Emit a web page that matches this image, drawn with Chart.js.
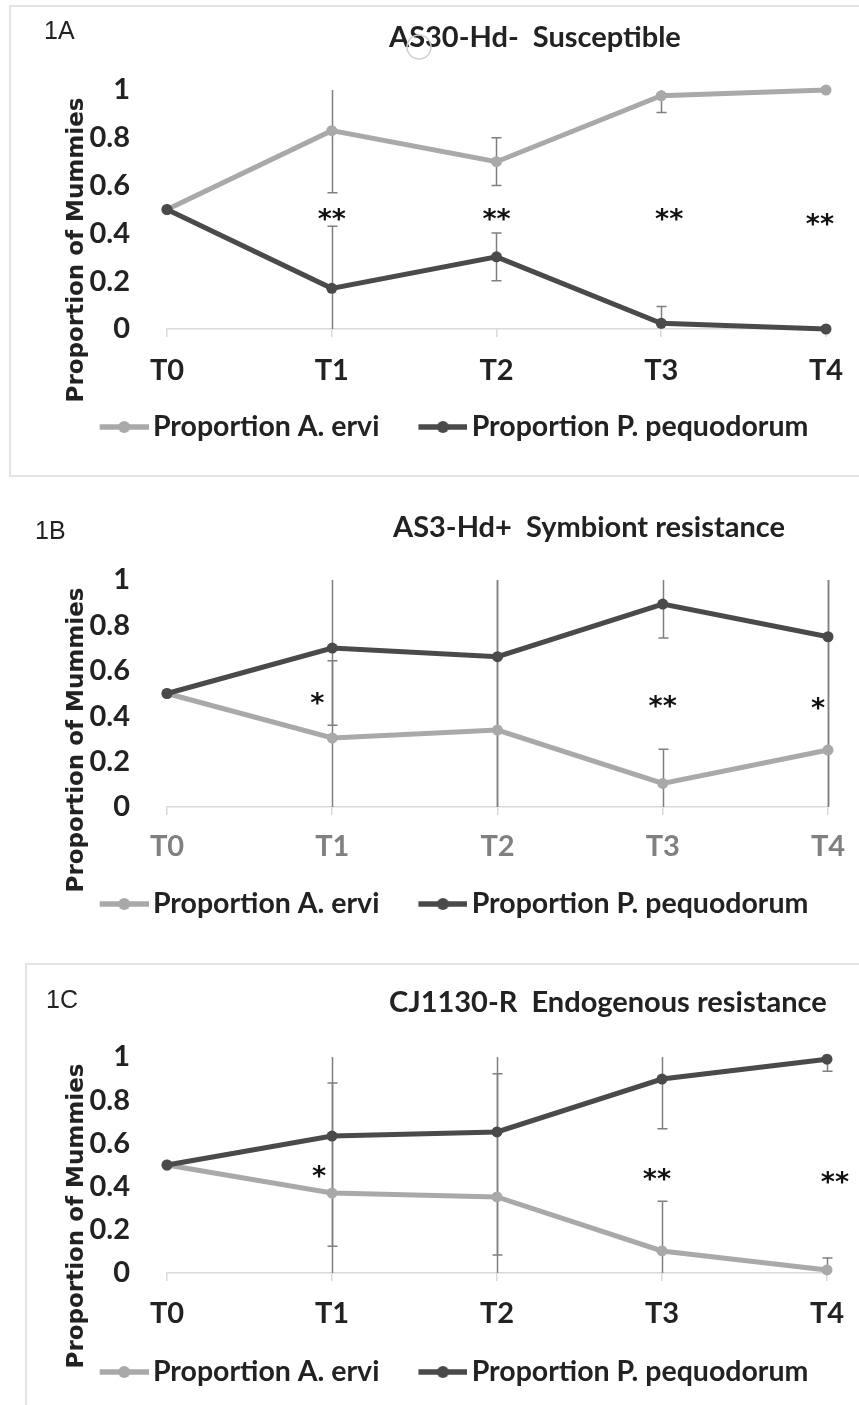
<!DOCTYPE html>
<html>
<head>
<meta charset="utf-8">
<script src="https://cdn.jsdelivr.net/npm/chart.js@4.4.1/dist/chart.umd.min.js"></script>
<style>
  body { margin: 0; width: 859px; height: 1405px; overflow: hidden; background: #fff; position: relative; }
  canvas { position: absolute; left: 0; }
  .frame { position: absolute; border: 2px solid #e3e3e3; }
</style>
</head>
<body>
<div class="frame" style="left:9px;top:5px;width:900px;height:468px"></div>
<div class="frame" style="left:25px;top:963px;width:900px;height:500px"></div>
<canvas id="chartA" width="859" height="470" style="top:0"></canvas>
<canvas id="chartB" width="859" height="450" style="top:480px"></canvas>
<canvas id="chartC" width="859" height="465" style="top:940px"></canvas>
<script>
// time points and y tick labels
const timePoints = ['T0', 'T1', 'T2', 'T3', 'T4'];
const yTickLabels = ['0', '0.2', '0.4', '0.6', '0.8', '1'];
const seriesNames = ['Proportion A. ervi', 'Proportion P. pequodorum'];

// 1A  AS30-Hd-
const erviA = [0.5, 0.83, 0.70, 0.976, 1.0];
const pequoA = [0.5, 0.17, 0.302, 0.024, 0.0];
const errA = [0, 0.26, 0.10, 0.07, 0];
const starsA = ['', '**', '**', '**', '**'];
const starLevelA = [null, 0.477, 0.477, 0.477, 0.46];

// 1B  AS3-Hd+
const erviB = [0.5, 0.304, 0.339, 0.104, 0.251];
const pequoB = [0.5, 0.70, 0.662, 0.894, 0.75];
const errB = [0, 0.34, 0.70, 0.15, 0.76];
const starsB = ['', '*', '', '**', '*'];
const starLevelB = [null, 0.48, null, 0.463, 0.454];

// 1C  CJ1130-R
const erviC = [0.5, 0.37, 0.352, 0.102, 0.014];
const pequoC = [0.5, 0.634, 0.653, 0.898, 0.99];
const errC = [0, 0.51, 0.57, 0.23, 0.056];
const starsC = ['', '*', '', '**', '**'];
const starLevelC = [null, 0.468, null, 0.454, 0.444];

const LIGHT = '#aba8a8';
const DARK = '#4a4a4c';
const TEXT = '#222222';
const LEGEND_FONT = 28.5;

// legend marker: line with a dot, drawn at the right side of a wider image
function legendMarker(color) {
  const c = document.createElement('canvas');
  c.width = 88; c.height = 14;
  const g = c.getContext('2d');
  g.strokeStyle = color; g.lineWidth = 5.5;
  g.beginPath(); g.moveTo(39, 7); g.lineTo(88, 7); g.stroke();
  g.fillStyle = color;
  g.beginPath(); g.arc(63.5, 7, 6, 0, Math.PI * 2); g.fill();
  return c;
}
const markers = [legendMarker(LIGHT), legendMarker(DARK)];

function decor(cfg) {
  return {
    id: 'decor',
    beforeDatasetsDraw(chart) {
      const { ctx, chartArea: a, scales: { x, y } } = chart;
      ctx.save();
      ctx.beginPath();
      ctx.rect(a.left - 10, a.top, a.width + 20, a.height);
      ctx.clip();
      ctx.strokeStyle = '#7f7f7f';
      ctx.lineWidth = 1.5;
      chart.data.datasets.forEach(ds => {
        ds.data.forEach((v, i) => {
          const e = ds.errors[i];
          if (!e) return;
          const px = Math.round(x.getPixelForValue(i)) + 0.5;
          const yt = y.getPixelForValue(v + e);
          const yb = y.getPixelForValue(v - e);
          ctx.beginPath();
          ctx.moveTo(px, yt); ctx.lineTo(px, yb);
          ctx.moveTo(px - 5, yt); ctx.lineTo(px + 5, yt);
          ctx.moveTo(px - 5, yb); ctx.lineTo(px + 5, yb);
          ctx.stroke();
        });
      });
      ctx.restore();
    },
    afterDatasetsDraw(chart) {
      const { ctx, scales: { x, y } } = chart;
      ctx.save();
      ctx.font = 'bold 27px "DejaVu Sans"';
      ctx.fillStyle = '#111';
      ctx.textAlign = 'center';
      ctx.textBaseline = 'alphabetic';
      cfg.stars.forEach((t, i) => {
        if (!t) return;
        const m = ctx.measureText(t);
        const cx = x.getPixelForValue(i) + (cfg.starShift[i] || 0);
        const cy = y.getPixelForValue(cfg.starLevel[i]);
        ctx.fillText(t, cx, cy + (m.actualBoundingBoxAscent - m.actualBoundingBoxDescent) / 2);
      });
      ctx.restore();
    },
    afterDraw(chart) {
      const ctx = chart.ctx;
      ctx.save();
      ctx.fillStyle = TEXT;
      ctx.textAlign = 'left';
      ctx.textBaseline = 'alphabetic';
      ctx.font = '25px "Liberation Sans"';
      ctx.fillText(cfg.tag, cfg.tagX, cfg.tagY);
      ctx.font = 'bold 29px Lato';
      ctx.fillText(cfg.title, cfg.titleX, cfg.titleY);
      if (cfg.ring) {
        // faint circle over the title, as in the source figure
        ctx.strokeStyle = '#cfcfcf';
        ctx.lineWidth = 1.5;
        ctx.beginPath();
        ctx.arc(cfg.ring[0], cfg.ring[1], 12, 0, Math.PI * 2);
        ctx.stroke();
      }
      ctx.translate(77, cfg.yTitleY);
      ctx.rotate(-Math.PI / 2);
      ctx.textAlign = 'center';
      ctx.textBaseline = 'middle';
      ctx.font = 'bold 23px "DejaVu Sans"';
      ctx.fillText('Proportion of Mummies', 0, 0);
      ctx.restore();
    }
  };
}

function makePanel(id, cfg) {
  const ctx = document.getElementById(id).getContext('2d');
  const line = (label, data, errors, color, order) => ({
    label, data, errors, order,
    borderColor: color, backgroundColor: color,
    pointBackgroundColor: color, pointBorderWidth: 0,
    borderWidth: 5, pointRadius: 5.5, clip: 10
  });
  new Chart(ctx, {
    type: 'line',
    data: {
      labels: timePoints,
      datasets: [
        line(seriesNames[0], cfg.ervi, cfg.err, LIGHT, 1),
        line(seriesNames[1], cfg.pequo, cfg.err, DARK, 0)
      ]
    },
    options: {
      responsive: false,
      animation: false,
      layout: { padding: { left: 41, right: 21, top: cfg.padTop, bottom: cfg.padBottom } },
      scales: {
        x: {
          grid: { drawOnChartArea: false, drawTicks: true, tickLength: 8, color: '#d9d9d9', lineWidth: 1.5 },
          border: { color: '#d9d9d9', width: 1.5 },
          ticks: { color: cfg.xColor, padding: cfg.xPad, maxRotation: 0,
                   font: { family: 'Lato', weight: 'bold', size: 29 } },
          afterFit: s => { s.height = cfg.xHeight; }
        },
        y: {
          min: 0, max: 1,
          grid: { display: false },
          border: { display: false },
          ticks: { stepSize: 0.2, color: TEXT, padding: 29,
                   font: { family: 'Lato', weight: 'bold', size: 29 },
                   callback: (v, i) => yTickLabels[i] },
          afterFit: s => { s.width = 126; }
        }
      },
      plugins: {
        legend: {
          position: 'bottom',
          labels: {
            usePointStyle: true,
            pointStyleWidth: 68,
            padding: 10,
            color: TEXT,
            font: { family: 'Lato', weight: 'bold', size: LEGEND_FONT },
            sort: (a, b) => a.datasetIndex - b.datasetIndex,
            generateLabels: chart => {
              const items = Chart.defaults.plugins.legend.labels.generateLabels(chart);
              items.forEach(it => { it.pointStyle = markers[it.datasetIndex]; });
              return items;
            }
          }
        },
        tooltip: { enabled: false }
      }
    },
    plugins: [decor(cfg)]
  });
}

makePanel('chartA', {
  ervi: erviA, pequo: pequoA, err: errA, stars: starsA, starLevel: starLevelA,
  starShift: [0, 0, 0, 8, -6],
  tag: '1A', tagX: 44, tagY: 39, ring: [419, 47],
  title: 'AS30-Hd-  Susceptible', titleX: 389, titleY: 47,
  yTitleY: 250, padTop: 90, padBottom: 18.75, xHeight: 73.75, xPad: 15.9, xColor: TEXT
});
makePanel('chartB', {
  ervi: erviB, pequo: pequoB, err: errB, stars: starsB, starLevel: starLevelB,
  starShift: [0, -15, 0, 0, -10],
  tag: '1B', tagX: 35, tagY: 59,
  title: 'AS3-Hd+  Symbiont resistance', titleX: 393, titleY: 57,
  yTitleY: 260, padTop: 100, padBottom: 1.75, xHeight: 72.75, xPad: 13.9, xColor: '#808080'
});
makePanel('chartC', {
  ervi: erviC, pequo: pequoC, err: errC, stars: starsC, starLevel: starLevelC,
  starShift: [0, -13, 0, -5, 8],
  tag: '1C', tagX: 46, tagY: 68,
  title: 'CJ1130-R  Endogenous resistance', titleX: 389, titleY: 72,
  yTitleY: 276, padTop: 117, padBottom: 8.75, xHeight: 74.75, xPad: 14.9, xColor: TEXT
});
</script>
</body>
</html>
